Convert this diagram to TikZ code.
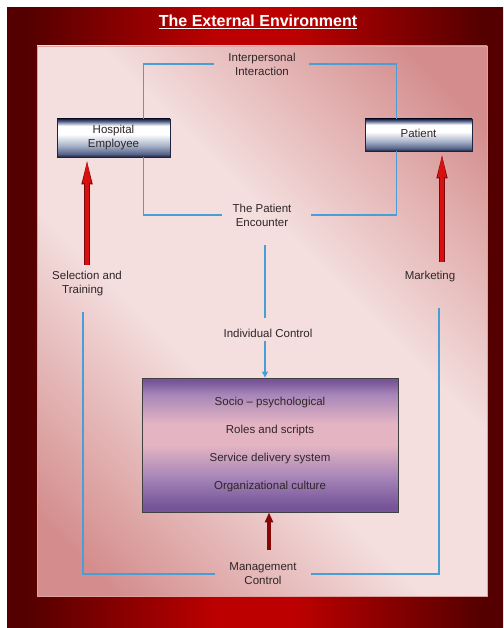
\documentclass[tikz,border=0pt]{standalone}
\usepackage{fontspec}
\setmainfont{Liberation Sans}
\usetikzlibrary{arrows.meta}
\definecolor{fd}{HTML}{540000}
\definecolor{fr}{HTML}{BC0000}
\definecolor{pd}{HTML}{D48C8C}
\definecolor{pl}{HTML}{F4DEDE}
\definecolor{bn}{HTML}{1C2440}
\definecolor{bs}{HTML}{56648A}
\definecolor{bm}{HTML}{A8B2C8}
\definecolor{pp}{HTML}{765498}
\definecolor{pp2}{HTML}{A685B8}
\definecolor{pk}{HTML}{E4B4C2}
\definecolor{txt}{HTML}{2E2528}
\definecolor{bline}{HTML}{4A9ED6}
\definecolor{rarrow}{HTML}{D81010}
\definecolor{rdark}{HTML}{7A0808}
\pgfdeclarehorizontalshading{framesh}{100bp}{color(0bp)=(fd); color(27bp)=(fd); color(46bp)=(fr); color(54bp)=(fr); color(73bp)=(fd); color(100bp)=(fd)}
\pgfdeclarehorizontalshading{panelsh}{100bp}{color(0bp)=(pd); color(20bp)=(pd); color(42bp)=(pl); color(58bp)=(pl); color(80bp)=(pd); color(100bp)=(pd)}
\pgfdeclareverticalshading{boxsh}{100bp}{color(0bp)=(bn); color(25bp)=(bn); color(29bp)=(bs); color(40bp)=(bm); color(55bp)=(white); color(66bp)=(white); color(72bp)=(bs); color(75bp)=(bn); color(100bp)=(bn)}
\pgfdeclareverticalshading{purpsh}{100bp}{color(0bp)=(pp); color(27bp)=(pp); color(38bp)=(pp2); color(50bp)=(pk); color(58bp)=(pk); color(69bp)=(pp2); color(74bp)=(pp); color(100bp)=(pp)}
\tikzset{
  lbl/.style={inner sep=0pt, text=txt, font=\fontsize{11.5pt}{14pt}\selectfont, align=center},
  navybox/.style={draw=bn, line width=0.8pt, shading=boxsh, inner sep=0pt, text=txt,
    font=\fontsize{11.5pt}{14pt}\selectfont, align=center},
  bl/.style={draw=bline, line width=1.1pt},
  redarrow/.style={line width=4pt, draw=rarrow, -{Triangle[length=26pt,width=7.5pt,fill=rarrow]},
    preaction={draw=rdark, line width=5.2pt, -{Triangle[length=27pt,width=9.5pt,fill=rdark]}}},
  darkredarrow/.style={line width=3.6pt, draw=rdark!90!red, -{Triangle[length=10pt,width=8pt]}}
}
\begin{document}
\begin{tikzpicture}[x=1pt,y=-1pt]
\useasboundingbox (0,0) rectangle (503,628);
\fill[white] (0,0) rectangle (503,628);
\shade[shading=framesh] (7,8) rectangle (503,628);
\shade[shading=panelsh, shading angle=45] (37,46) rectangle (487,596);
\draw[pd!80!white, line width=0.6pt] (37,46) rectangle (487,596);

\node[anchor=base, text=white, font=\fontsize{16pt}{18pt}\selectfont\bfseries] (title) at (258,27) {\underline{The External Environment}};

\node[navybox, minimum width=113pt, minimum height=38pt] (emp) at (113.5,138) {Hospital\\Employee};
\node[navybox, minimum width=107pt, minimum height=32pt] (pat) at (418.5,135) {\raisebox{3pt}{Patient}};

\node[lbl] (inter) at (262,64) {Interpersonal\\Interaction};
\node[lbl] (enc) at (262,215) {The Patient\\Encounter};
\node[lbl] (ind) at (268,333) {Individual Control};
\node[lbl, anchor=west, align=left] (sel) at (52,284) {Selection and\\\hspace*{10pt}Training};
\node[lbl] (mkt) at (430,277) {Marketing};
\node[lbl] (mgmt) at (263,574) {Management\\Control};

\node[draw=black!75, line width=0.8pt, shading=purpsh, minimum width=256pt, minimum height=134pt,
  text=txt, font=\fontsize{11.5pt}{28pt}\selectfont, align=center] (sys) at (270,445)
  {Socio -- psychological\\Roles and scripts\\Service delivery system\\Organizational culture};

% interpersonal loop
\draw[bl, shorten >=14pt] ([xshift=-27pt]emp.north east) |- (inter.west);
\draw[bl, shorten >=13pt] ([xshift=32pt]pat.north west) |- (inter.east);
% encounter loop
\draw[bl, shorten >=10.5pt] ([xshift=-27pt]emp.south east) |- (enc.west);
\draw[bl, shorten >=19.5pt] ([xshift=32pt]pat.south west) |- (enc.east);
% encounter to individual control
\draw[bl, shorten <=19pt, shorten >=10.5pt] ([xshift=3pt]enc.south) -- ([xshift=3pt]enc.south |- ind.north);
\draw[bl, shorten <=3.6pt, -{Triangle[length=6pt,width=6pt]}] ([xshift=3pt]enc.south |- ind.south) -- ([xshift=3pt]enc.south |- sys.north);
% management loop
\draw[bl, shorten <=15pt, shorten >=14.4pt] ([xshift=-4pt]sel.south) |- (mgmt.west);
\draw[bl, shorten <=25.6pt, shorten >=14.4pt] ([xshift=9pt]mkt.south) |- (mgmt.east);

% red arrows
\draw[redarrow, shorten <=6.6pt] (sel.north) -- (sel.north |- emp.south);
\draw[redarrow, shorten <=9.6pt] ([xshift=12pt]mkt.north) -- ([xshift=12pt]mkt.north |- pat.south);
\draw[darkredarrow, shorten <=12.8pt] ([xshift=-1pt]sys.south |- mgmt.north) -- ([xshift=-1pt]sys.south);
\end{tikzpicture}
\end{document}
